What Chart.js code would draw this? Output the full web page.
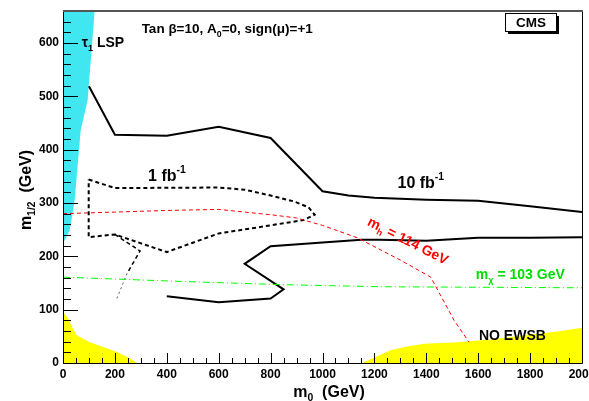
<!DOCTYPE html>
<html>
<head>
<meta charset="utf-8">
<script src="https://cdn.jsdelivr.net/npm/chart.js@4.4.1/dist/chart.umd.min.js"></script>
<style>
  html, body { margin: 0; padding: 0; background: #fff; }
</style>
</head>
<body>
<canvas id="myChart" width="589" height="401"></canvas>
<script>
// axis ticks (GeV)
const m0Ticks = [0, 200, 400, 600, 800, 1000, 1200, 1400, 1600, 1800, 2000];
const m12Ticks = [0, 100, 200, 300, 400, 500, 600];

// stau LSP region (left edge of plane)
const lspM0 = [0, 26, 45, 68, 95, 122];
const lspM12 = [224, 249, 305, 436, 493, 660];

// no EWSB regions
const ewsbLowM0 = [0, 19, 32, 52, 103, 155, 206, 258, 285];
const ewsbLowM12 = [96, 84, 71, 52, 39, 30, 21, 9, 0];
const ewsbHighM0 = [1153, 1202, 1262, 1327, 1391, 1520, 1649, 1777, 1906, 2000];
const ewsbHighM12 = [0, 11, 24, 31, 36, 39, 44, 52, 59, 66];

// 10 fb-1 reach, upper and lower branch
const reach10UpM0 = [100, 200, 400, 600, 800, 1000, 1100, 1200, 1400, 1600, 1700, 1800, 2000];
const reach10UpM12 = [519, 428, 426, 443, 422, 322, 314, 310, 306, 304, 299, 294, 283];
const reach10LowM0 = [400, 600, 800, 850, 700, 800, 1000, 1150, 1220, 1400, 1600, 1800, 2000];
const reach10LowM12 = [125, 114, 121, 138, 186, 219, 226, 231, 231, 229, 235, 235, 236];

// 1 fb-1 reach (closed) and its tail
const reach1M0 = [99, 200, 600, 700, 800, 890, 946, 970, 927, 760, 600, 400, 200, 99, 99];
const reach1M12 = [344, 328, 329, 325, 314, 303, 292, 278, 268, 255, 243, 208, 241, 236, 344];
const reach1TailM0 = [200, 297, 247];
const reach1TailM12 = [241, 210, 168];
const reach1DotM0 = [247, 204];
const reach1DotM12 = [168, 117];

// mh = 114 GeV
const higgsM0 = [0, 200, 400, 600, 800, 900, 1000, 1133, 1300, 1417, 1507, 1565];
const higgsM12 = [280, 283, 286, 288, 278, 272, 258, 235, 193, 161, 80, 39];

// m chi = 103 GeV
const charginoM0 = [0, 451, 837, 1223, 2000];
const charginoM12 = [161, 153, 147, 143, 141];

const toPoints = (xs, ys) => xs.map((x, i) => ({x: x, y: ys[i]}));

const FONT = '"Liberation Sans", Arial, Helvetica, sans-serif';

// text with sub (-1) / superscript (+1) pieces
const drawRich = (ctx, parts, x, y, size, align) => {
  const sz = p => p[1] ? size * 0.65 : size;
  let w = 0;
  parts.forEach(p => {
    ctx.font = 'bold ' + sz(p) + 'px ' + FONT;
    w += ctx.measureText(p[0]).width;
  });
  let cx = align === 'center' ? x - w / 2 : x;
  ctx.textAlign = 'left';
  ctx.textBaseline = 'alphabetic';
  parts.forEach(p => {
    ctx.font = 'bold ' + sz(p) + 'px ' + FONT;
    const dy = p[1] === -1 ? size * 0.28 : (p[1] === 1 ? -size * 0.45 : 0);
    ctx.fillText(p[0], cx, y + dy);
    cx += ctx.measureText(p[0]).width;
  });
};

const rootStyle = {
  id: 'rootStyle',
  afterDatasetsDraw(chart) {
    const {ctx, chartArea: a, scales: {x, y}} = chart;
    ctx.save();
    // inward ticks
    ctx.strokeStyle = '#000';
    ctx.lineWidth = 1;
    ctx.beginPath();
    for (let v = 0; v <= 2000; v += 50) {
      const p = Math.round(x.getPixelForValue(v)) + 0.5;
      const len = v % 200 === 0 ? 10 : 5;
      ctx.moveTo(p, a.bottom);
      ctx.lineTo(p, a.bottom - len);
    }
    for (let v = 0; v < 660; v += 20) {
      const p = Math.round(y.getPixelForValue(v)) + 0.5;
      const len = v % 100 === 0 ? 15 : 8;
      ctx.moveTo(a.left, p);
      ctx.lineTo(a.left + len, p);
    }
    ctx.stroke();

    // frame
    ctx.beginPath();
    ctx.moveTo(a.left + 0.5, a.top);
    ctx.lineTo(a.left + 0.5, a.bottom + 0.5);
    ctx.lineTo(a.right + 0.5, a.bottom + 0.5);
    ctx.lineTo(a.right + 0.5, a.top);
    ctx.stroke();
    ctx.strokeStyle = '#555';
    ctx.lineWidth = 2;
    ctx.beginPath();
    ctx.moveTo(a.left, a.top);
    ctx.lineTo(a.right + 1, a.top);
    ctx.stroke();

    // labels
    ctx.fillStyle = '#000';
    drawRich(ctx, [['Tan ', 0], ['\u03b2', 0], ['=10, A', 0], ['0', -1], ['=0, sign(', 0], ['\u03bc', 0], [')=+1', 0]],
      x.getPixelForValue(303), y.getPixelForValue(619), 13.5, 'left');
    drawRich(ctx, [['\u03c4', 0], ['1', -1], [' LSP', 0]],
      x.getPixelForValue(72), y.getPixelForValue(593), 14, 'left');
    drawRich(ctx, [['1 fb', 0], ['-1', 1]],
      x.getPixelForValue(328), y.getPixelForValue(342), 16, 'left');
    drawRich(ctx, [['10 fb', 0], ['-1', 1]],
      x.getPixelForValue(1289), y.getPixelForValue(329), 16, 'left');
    drawRich(ctx, [['NO EWSB', 0]],
      x.getPixelForValue(1603), y.getPixelForValue(43), 14, 'left');
    ctx.fillStyle = '#00dd00';
    drawRich(ctx, [['m', 0], ['\u03c7', -1], [' = 103 GeV', 0]],
      x.getPixelForValue(1591), y.getPixelForValue(158), 14, 'left');

    ctx.fillStyle = '#ff0000';
    ctx.save();
    ctx.translate(x.getPixelForValue(1330), y.getPixelForValue(230));
    ctx.rotate(27 * Math.PI / 180);
    drawRich(ctx, [['m', 0], ['h', -1], [' = 114 GeV', 0]], 0, 5, 14, 'center');
    ctx.restore();

    // CMS box
    const bx = 505, by = 13, bw = 51, bh = 18;
    ctx.fillStyle = '#000';
    ctx.fillRect(bx + 3, by + 3, bw, bh);
    ctx.fillStyle = '#fff';
    ctx.fillRect(bx, by, bw, bh);
    ctx.strokeStyle = '#000';
    ctx.lineWidth = 1;
    ctx.strokeRect(bx + 0.5, by + 0.5, bw, bh);
    ctx.fillStyle = '#000';
    drawRich(ctx, [['CMS', 0]], bx + bw / 2 + 0.5, by + 14, 13.5, 'center');

    // axis titles
    drawRich(ctx, [['m', 0], ['0', -1], ['  (GeV)', 0]], 329, 397, 16, 'center');
    ctx.save();
    ctx.translate(31, 190);
    ctx.rotate(-Math.PI / 2);
    drawRich(ctx, [['m', 0], ['1/2', -1], ['  (GeV)', 0]], 0, 0, 16, 'center');
    ctx.restore();
    ctx.restore();
  }
};

const lineSet = (xs, ys, color, width, dash) => ({
  data: toPoints(xs, ys),
  borderColor: color,
  borderWidth: width,
  borderDash: dash,
  pointRadius: 0,
  fill: false,
  tension: 0,
  order: 1
});

const areaSet = (xs, ys, color, fillTo) => ({
  data: toPoints(xs, ys),
  borderWidth: 0,
  borderColor: color,
  backgroundColor: color,
  pointRadius: 0,
  fill: fillTo,
  tension: 0,
  order: 5
});

const noPad = s => {
  s.paddingLeft = 0;
  s.paddingRight = 0;
  s.paddingTop = 0;
  s.paddingBottom = 0;
};

const ctx = document.getElementById('myChart');

new Chart(ctx, {
  type: 'line',
  data: {
    datasets: [
      areaSet(lspM0, lspM12, 'rgb(64,230,240)', 'end'),
      areaSet(ewsbLowM0, ewsbLowM12, '#ffff00', 'origin'),
      areaSet(ewsbHighM0, ewsbHighM12, '#ffff00', 'origin'),
      lineSet(higgsM0, higgsM12, '#ff0000', 1, [4, 3]),
      lineSet(charginoM0, charginoM12, '#00ff00', 1, [7, 3, 1, 3]),
      lineSet(reach1M0, reach1M12, '#000', 2, [4, 3]),
      lineSet(reach1TailM0, reach1TailM12, '#000', 1.5, [4, 3]),
      lineSet(reach1DotM0, reach1DotM12, '#555', 1, [2, 3]),
      lineSet(reach10UpM0, reach10UpM12, '#000', 2, []),
      lineSet(reach10LowM0, reach10LowM12, '#000', 2, [])
    ]
  },
  options: {
    responsive: false,
    animation: false,
    devicePixelRatio: 1,
    layout: { autoPadding: false, padding: { top: 11, right: 7, left: 0, bottom: 0 } },
    plugins: { legend: { display: false }, tooltip: { enabled: false } },
    scales: {
      x: {
        type: 'linear',
        min: 0,
        max: 2000,
        afterBuildTicks: s => { s.ticks = m0Ticks.map(v => ({value: v})); },
        afterFit: s => { s.height = 38; noPad(s); },
        grid: { display: false, drawTicks: false },
        border: { display: false },
        ticks: { color: '#000', padding: 4, maxRotation: 0, autoSkip: false,
                  callback: v => String(v),
                  font: { family: FONT, size: 12, weight: 'bold' } }
      },
      y: {
        type: 'linear',
        min: 0,
        max: 660,
        afterBuildTicks: s => { s.ticks = m12Ticks.map(v => ({value: v})); },
        afterFit: s => { s.width = 63; noPad(s); },
        grid: { display: false, drawTicks: false },
        border: { display: false },
        ticks: { color: '#000', padding: 4, autoSkip: false,
                  callback: v => String(v),
                  font: { family: FONT, size: 12, weight: 'bold' } }
      }
    }
  },
  plugins: [rootStyle]
});
</script>
</body>
</html>
